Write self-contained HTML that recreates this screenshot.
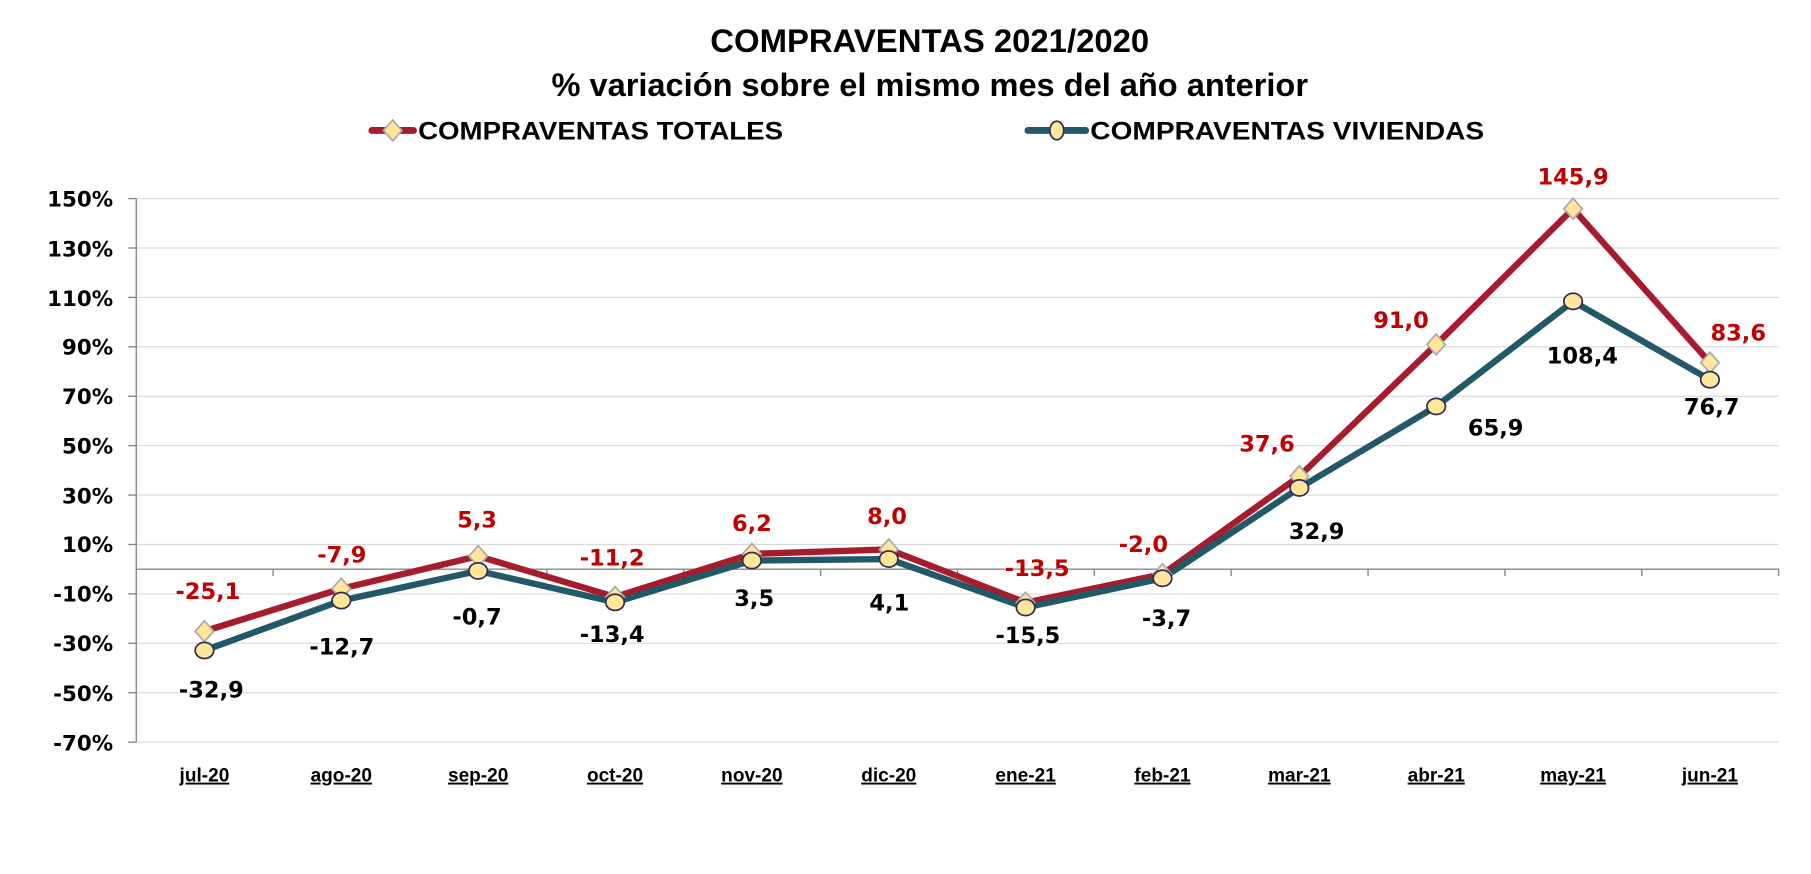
<!DOCTYPE html>
<html><head><meta charset="utf-8"><style>
html,body{margin:0;padding:0;background:#fff;width:1811px;height:874px;overflow:hidden}
svg{display:block}
.t{font-family:"Liberation Sans Narrow","Liberation Sans",sans-serif;font-weight:bold;fill:#000}
.yl{font-family:"DejaVu Sans",sans-serif;font-weight:bold;font-size:18.5px;text-anchor:end}
.xl{font-family:"Liberation Sans",sans-serif;font-weight:bold;font-size:16.5px;text-anchor:middle;text-decoration:underline}
.r{font-family:"DejaVu Sans",sans-serif;font-weight:bold;font-size:19.5px;fill:#c00000;text-anchor:middle}
.k{font-family:"DejaVu Sans",sans-serif;font-weight:bold;font-size:19.5px;fill:#000;text-anchor:middle}
</style></head><body>
<svg width="1811" height="874" viewBox="0 0 1568 757" preserveAspectRatio="none" xmlns="http://www.w3.org/2000/svg">
<text class="t" x="805" y="45" font-size="28" text-anchor="middle" textLength="380" lengthAdjust="spacingAndGlyphs">COMPRAVENTAS 2021/2020</text>
<text class="t" x="805" y="83" font-size="28" text-anchor="middle" textLength="655" lengthAdjust="spacingAndGlyphs">% variación sobre el mismo mes del año anterior</text>
<line x1="322" y1="113" x2="358" y2="113" stroke="#a61c2d" stroke-width="6" stroke-linecap="round"/>
<polygon points="340,104 348,113 340,122 332,113" fill="#ffe699" stroke="#aaa" stroke-width="1.5"/>
<text class="t" x="362" y="121" font-size="22" textLength="316" lengthAdjust="spacingAndGlyphs">COMPRAVENTAS TOTALES</text>
<line x1="890" y1="113" x2="940" y2="113" stroke="#215968" stroke-width="6" stroke-linecap="round"/>
<ellipse cx="915" cy="113" rx="6" ry="8" fill="#ffe699" stroke="#332a55" stroke-width="1.5"/>
<text class="t" x="944" y="121" font-size="22" textLength="341" lengthAdjust="spacingAndGlyphs">COMPRAVENTAS VIVIENDAS</text>
<g stroke="#d9d9d9" stroke-width="1">
<line x1="118" y1="172" x2="1540" y2="172"/><line x1="118" y1="214.8" x2="1540" y2="214.8"/><line x1="118" y1="257.6" x2="1540" y2="257.6"/><line x1="118" y1="300.4" x2="1540" y2="300.4"/><line x1="118" y1="343.2" x2="1540" y2="343.2"/><line x1="118" y1="386" x2="1540" y2="386"/><line x1="118" y1="428.8" x2="1540" y2="428.8"/><line x1="118" y1="471.6" x2="1540" y2="471.6"/><line x1="118" y1="514.4" x2="1540" y2="514.4"/><line x1="118" y1="557.2" x2="1540" y2="557.2"/><line x1="118" y1="600" x2="1540" y2="600"/><line x1="118" y1="642.8" x2="1540" y2="642.8"/>
</g>
<g stroke="#888" stroke-width="1.2">
<line x1="118" y1="172" x2="118" y2="643"/>
<line x1="111" y1="172" x2="118" y2="172"/><line x1="111" y1="214.8" x2="118" y2="214.8"/><line x1="111" y1="257.6" x2="118" y2="257.6"/><line x1="111" y1="300.4" x2="118" y2="300.4"/><line x1="111" y1="343.2" x2="118" y2="343.2"/><line x1="111" y1="386" x2="118" y2="386"/><line x1="111" y1="428.8" x2="118" y2="428.8"/><line x1="111" y1="471.6" x2="118" y2="471.6"/><line x1="111" y1="514.4" x2="118" y2="514.4"/><line x1="111" y1="557.2" x2="118" y2="557.2"/><line x1="111" y1="600" x2="118" y2="600"/><line x1="111" y1="642.8" x2="118" y2="642.8"/>
<line x1="118" y1="493" x2="1540" y2="493"/>
<line x1="236.5" y1="493" x2="236.5" y2="499"/><line x1="355" y1="493" x2="355" y2="499"/><line x1="473.5" y1="493" x2="473.5" y2="499"/><line x1="592" y1="493" x2="592" y2="499"/><line x1="710.5" y1="493" x2="710.5" y2="499"/><line x1="829" y1="493" x2="829" y2="499"/><line x1="947.5" y1="493" x2="947.5" y2="499"/><line x1="1066" y1="493" x2="1066" y2="499"/><line x1="1184.5" y1="493" x2="1184.5" y2="499"/><line x1="1303" y1="493" x2="1303" y2="499"/><line x1="1421.5" y1="493" x2="1421.5" y2="499"/><line x1="1540" y1="493" x2="1540" y2="499"/>
</g>
<text class="yl" x="98" y="179">150%</text><text class="yl" x="98" y="222">130%</text><text class="yl" x="98" y="265">110%</text><text class="yl" x="98" y="307">90%</text><text class="yl" x="98" y="350">70%</text><text class="yl" x="98" y="393">50%</text><text class="yl" x="98" y="436">30%</text><text class="yl" x="98" y="478">10%</text><text class="yl" x="98" y="521">-10%</text><text class="yl" x="98" y="564">-30%</text><text class="yl" x="98" y="607">-50%</text><text class="yl" x="98" y="650">-70%</text>
<text class="xl" x="177" y="677">jul-20</text><text class="xl" x="295.5" y="677">ago-20</text><text class="xl" x="414" y="677">sep-20</text><text class="xl" x="532.5" y="677">oct-20</text><text class="xl" x="651" y="677">nov-20</text><text class="xl" x="769.5" y="677">dic-20</text><text class="xl" x="888" y="677">ene-21</text><text class="xl" x="1006.5" y="677">feb-21</text><text class="xl" x="1125" y="677">mar-21</text><text class="xl" x="1243.5" y="677">abr-21</text><text class="xl" x="1362" y="677">may-21</text><text class="xl" x="1480.5" y="677">jun-21</text>
<polyline fill="none" stroke="#a61c2d" stroke-width="5.5" stroke-linejoin="round" points="177,546.7 295.5,509.9 414,481.7 532.5,517 651,479.7 769.5,475.9 888,521.9 1006.5,497.3 1125,412.5 1243.5,298.3 1362,180.8 1480.5,314.1"/>
<polyline fill="none" stroke="#215968" stroke-width="5.5" stroke-linejoin="round" points="177,563.4 295.5,520.2 414,494.5 532.5,521.7 651,485.5 769.5,484.2 888,526.2 1006.5,500.9 1125,422.6 1243.5,352 1362,261 1480.5,328.9"/>
<g fill="#ffe699" stroke="#aaa" stroke-width="1.5">
<polygon points="177,537.7 185,546.7 177,555.7 169,546.7"/><polygon points="295.5,500.9 303.5,509.9 295.5,518.9 287.5,509.9"/><polygon points="414,472.7 422,481.7 414,490.7 406,481.7"/><polygon points="532.5,508 540.5,517 532.5,526 524.5,517"/><polygon points="651,470.7 659,479.7 651,488.7 643,479.7"/><polygon points="769.5,466.9 777.5,475.9 769.5,484.9 761.5,475.9"/><polygon points="888,512.9 896,521.9 888,530.9 880,521.9"/><polygon points="1006.5,488.3 1014.5,497.3 1006.5,506.3 998.5,497.3"/><polygon points="1125,403.5 1133,412.5 1125,421.5 1117,412.5"/><polygon points="1243.5,289.3 1251.5,298.3 1243.5,307.3 1235.5,298.3"/><polygon points="1362,171.8 1370,180.8 1362,189.8 1354,180.8"/><polygon points="1480.5,305.1 1488.5,314.1 1480.5,323.1 1472.5,314.1"/>
</g>
<g fill="#ffe699" stroke="#332a55" stroke-width="1.5">
<ellipse cx="177" cy="563.4" rx="8" ry="7"/><ellipse cx="295.5" cy="520.2" rx="8" ry="7"/><ellipse cx="414" cy="494.5" rx="8" ry="7"/><ellipse cx="532.5" cy="521.7" rx="8" ry="7"/><ellipse cx="651" cy="485.5" rx="8" ry="7"/><ellipse cx="769.5" cy="484.2" rx="8" ry="7"/><ellipse cx="888" cy="526.2" rx="8" ry="7"/><ellipse cx="1006.5" cy="500.9" rx="8" ry="7"/><ellipse cx="1125" cy="422.6" rx="8" ry="7"/><ellipse cx="1243.5" cy="352" rx="8" ry="7"/><ellipse cx="1362" cy="261" rx="8" ry="7"/><ellipse cx="1480.5" cy="328.9" rx="8" ry="7"/>
</g>
<text class="r" x="180" y="519">-25,1</text><text class="r" x="296" y="487">-7,9</text><text class="r" x="413" y="457">5,3</text><text class="r" x="530" y="490">-11,2</text><text class="r" x="651" y="460">6,2</text><text class="r" x="768" y="454">8,0</text><text class="r" x="898" y="499">-13,5</text><text class="r" x="990" y="478">-2,0</text><text class="r" x="1097" y="391">37,6</text><text class="r" x="1213" y="284">91,0</text><text class="r" x="1362" y="160">145,9</text><text class="r" x="1505" y="295">83,6</text>
<text class="k" x="183" y="604">-32,9</text><text class="k" x="296" y="567">-12,7</text><text class="k" x="413" y="541">-0,7</text><text class="k" x="530" y="556">-13,4</text><text class="k" x="653" y="525">3,5</text><text class="k" x="770" y="529">4,1</text><text class="k" x="890" y="557">-15,5</text><text class="k" x="1010" y="542">-3,7</text><text class="k" x="1140" y="467">32,9</text><text class="k" x="1295" y="377">65,9</text><text class="k" x="1370" y="315">108,4</text><text class="k" x="1482" y="359">76,7</text>
</svg>
</body></html>
